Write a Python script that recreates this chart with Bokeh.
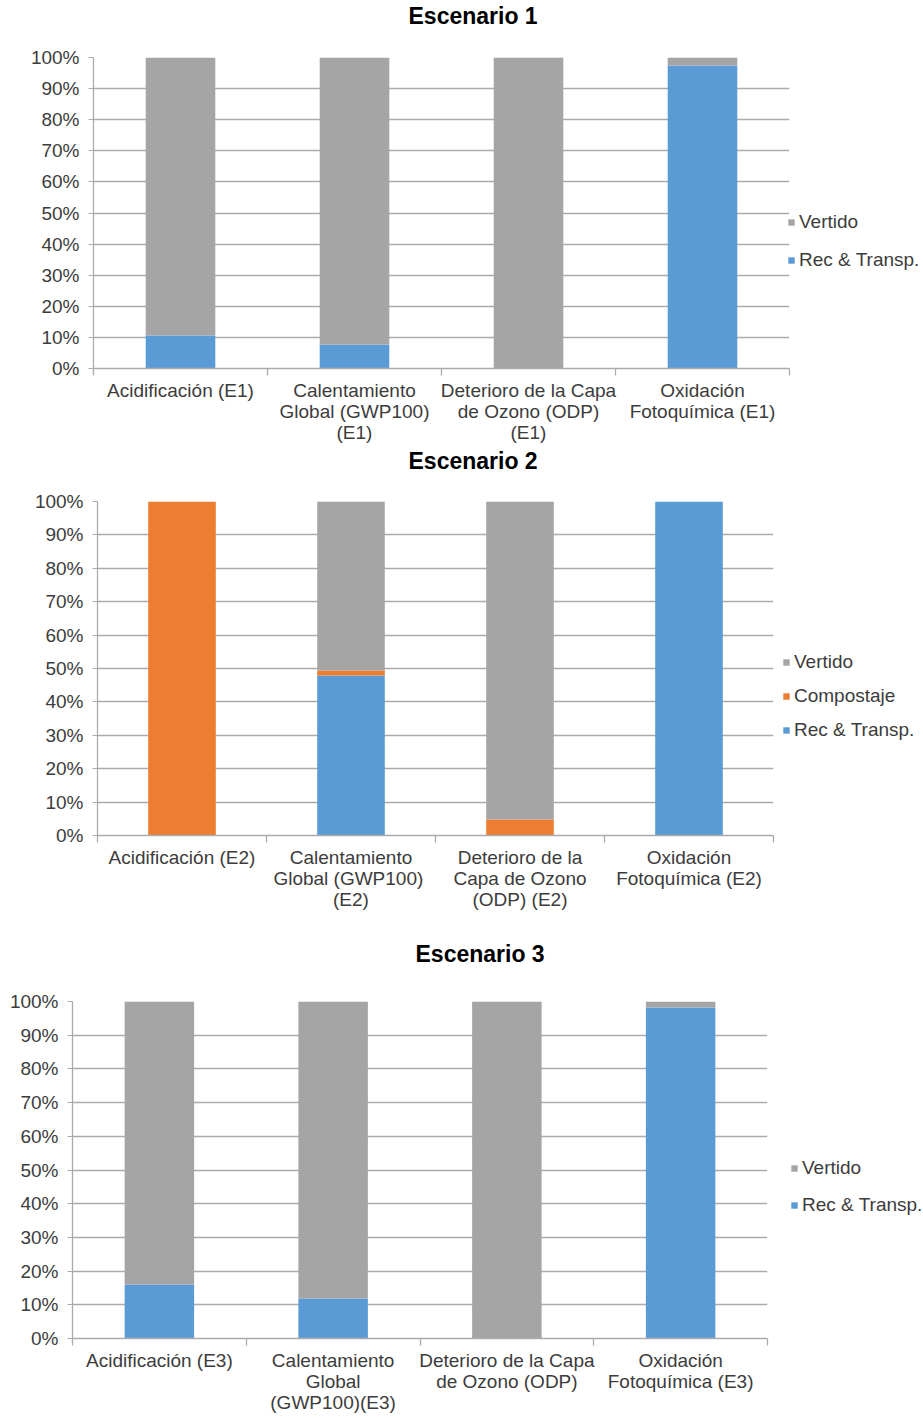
from bokeh.plotting import figure
from bokeh.models import (ColumnDataSource, Range1d, FixedTicker, PrintfTickFormatter,
                          Legend, LegendItem, Title)
from bokeh.embed import file_html
from bokeh.resources import INLINE

# Impact categories per scenario (x tick labels)
cats_e1 = ["Acidificación (E1)", "Calentamiento\nGlobal (GWP100)\n(E1)",
           "Deterioro de la Capa\nde Ozono (ODP)\n(E1)", "Oxidación\nFotoquímica (E1)"]
cats_e2 = ["Acidificación (E2)", "Calentamiento\nGlobal  (GWP100)\n(E2)",
           "Deterioro de la\nCapa de Ozono\n(ODP) (E2)", "Oxidación\nFotoquímica (E2)"]
cats_e3 = ["Acidificación (E3)", "Calentamiento\nGlobal\n(GWP100)(E3)",
           "Deterioro de la Capa\nde Ozono (ODP)", "Oxidación\nFotoquímica (E3)"]

# Share of each stage in the impact (%)
rec_e1 = [10.6, 7.7, 0.0, 97.4]
vert_e1 = [89.4, 92.3, 100.0, 2.6]

rec_e2 = [0.0, 47.9, 0.0, 100.0]
comp_e2 = [100.0, 1.5, 4.8, 0.0]
vert_e2 = [0.0, 50.6, 95.2, 0.0]

rec_e3 = [16.0, 11.9, 0.0, 98.2]
vert_e3 = [84.0, 88.1, 100.0, 1.8]

y_ticks = [0, 10, 20, 30, 40, 50, 60, 70, 80, 90, 100]

BLUE = "#5b9bd5"
ORANGE = "#ed7d31"
GRAY = "#a5a5a5"
LINE = "#ababab"
TXT = "#3c3c3c"
FONT = "Liberation Sans"


def make_chart(title, cats, series, frame, borders, title_pos, legend_loc, legend_spacing):
    n = len(cats)
    centers = [i + 0.5 for i in range(n)]
    data = {"x": centers}
    for field, _, vals, _ in series:
        data[field] = vals
    src = ColumnDataSource(data)

    left, right, top, bottom = borders
    p = figure(frame_width=frame[0], frame_height=frame[1],
               output_backend="svg", toolbar_location=None,
               x_range=Range1d(0, n), y_range=Range1d(0, 100),
               min_border_top=top, min_border_bottom=bottom,
               min_border_left=left, min_border_right=right)
    p.outline_line_color = None
    p.background_fill_color = "white"
    p.border_fill_color = "white"

    # empty spacer keeps the heading clear of the plot area
    gap = Title(text=" ", text_font_size="1px", standoff=title_pos[1])
    p.add_layout(gap, "above")
    t = Title(text=title, align="left", vertical_align="middle", text_font=FONT,
              text_font_size="23px", text_font_style="bold", text_color="black",
              offset=title_pos[0], standoff=0)
    p.add_layout(t, "above")

    renderers = p.vbar_stack([s[0] for s in series], x="x", width=0.4,
                             color=[s[3] for s in series], line_color=None, source=src)

    # x axis: labels at category centres, separator ticks between categories
    p.xaxis.ticker = FixedTicker(ticks=centers, minor_ticks=list(range(n + 1)))
    p.xaxis.major_label_overrides = {c: lab for c, lab in zip(centers, cats)}
    p.xaxis.major_tick_line_color = None
    p.xaxis.major_tick_out = 0
    p.xaxis.major_tick_in = 0
    p.xaxis.minor_tick_line_color = LINE
    p.xaxis.minor_tick_line_width = 1.3
    p.xaxis.minor_tick_out = 7
    p.xaxis.minor_tick_in = 0
    p.xaxis.axis_line_color = LINE
    p.xaxis.axis_line_width = 1.3
    p.xaxis.major_label_text_font = FONT
    p.xaxis.major_label_text_font_size = "19px"
    p.xaxis.major_label_text_line_height = 1.0
    p.xaxis.major_label_text_color = TXT
    p.xaxis.major_label_standoff = 4
    p.xgrid.grid_line_color = None

    p.yaxis.ticker = FixedTicker(ticks=y_ticks)
    p.yaxis.formatter = PrintfTickFormatter(format="%d%%")
    p.yaxis.axis_line_color = LINE
    p.yaxis.axis_line_width = 1.3
    p.yaxis.major_tick_line_color = LINE
    p.yaxis.major_tick_out = 5
    p.yaxis.major_tick_in = 0
    p.yaxis.minor_tick_line_color = None
    p.yaxis.major_label_text_font = FONT
    p.yaxis.major_label_text_font_size = "19px"
    p.yaxis.major_label_text_color = TXT
    p.yaxis.major_label_standoff = 9
    p.ygrid.ticker = FixedTicker(ticks=y_ticks)
    p.ygrid.grid_line_color = LINE
    p.ygrid.grid_line_width = 1.3

    # legend lists the top segment first
    items = [LegendItem(label=s[1], renderers=[r]) for s, r in zip(series, renderers)]
    items.reverse()
    leg = Legend(items=items, location=legend_loc, orientation="vertical",
                 padding=0, margin=0, spacing=legend_spacing,
                 glyph_width=8, glyph_height=8, label_standoff=4,
                 label_text_font=FONT, label_text_font_size="19px",
                 label_text_color=TXT, label_height=22,
                 background_fill_alpha=0, border_line_color=None)
    p.add_layout(leg, "right")
    return p


p1 = make_chart("Escenario 1", cats_e1,
                [("rec", "Rec & Transp.", rec_e1, BLUE), ("vert", "Vertido", vert_e1, GRAY)],
                frame=(696, 311), borders=(93, 134, 57, 77),
                title_pos=(315, 25), legend_loc=(-2, 97), legend_spacing=16)

p2 = make_chart("Escenario 2", cats_e2,
                [("rec", "Rec & Transp.", rec_e2, BLUE), ("comp", "Compostaje", comp_e2, ORANGE),
                 ("vert", "Vertido", vert_e2, GRAY)],
                frame=(676, 334), borders=(97, 150, 56, 95),
                title_pos=(311, 24), legend_loc=(9, 94), legend_spacing=12)

p3 = make_chart("Escenario 3", cats_e3,
                [("rec", "Rec & Transp.", rec_e3, BLUE), ("vert", "Vertido", vert_e3, GRAY)],
                frame=(695, 337), borders=(72, 156, 71, 80),
                title_pos=(343, 31), legend_loc=(23, 122), legend_spacing=15)

# each chart is its own root so their plot areas keep their own left edges
open("out.html", "w").write(file_html([p1, p2, p3], INLINE))
